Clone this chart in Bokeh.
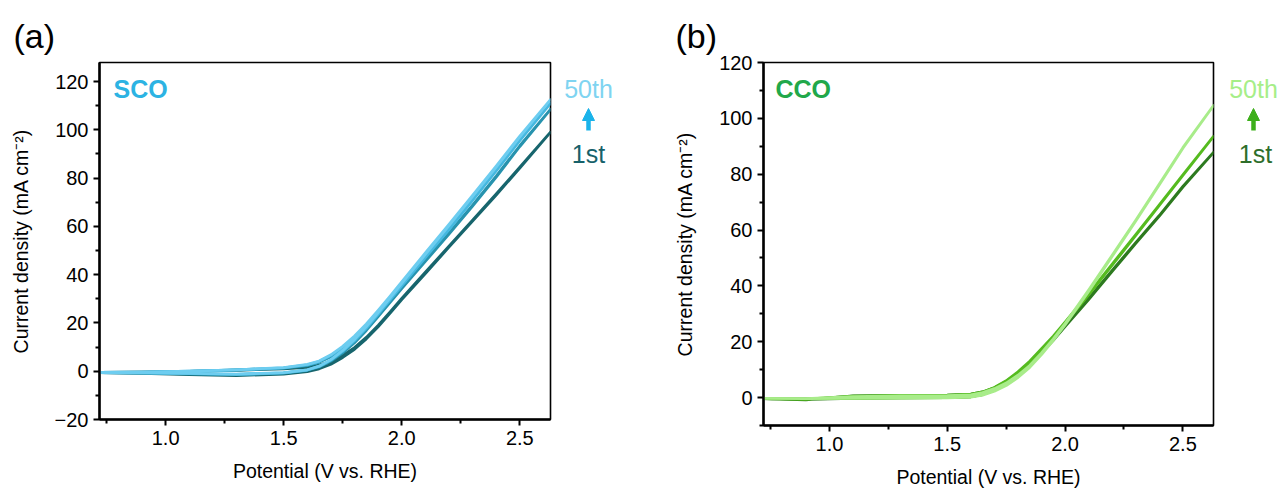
from bokeh.plotting import figure
from bokeh.layouts import row
from bokeh.models import Label, Arrow, NormalHead, FixedTicker, Range1d, Title
from bokeh.embed import file_html
from bokeh.resources import INLINE

# ---------------- data ----------------
potential = [0.72, 0.9, 1.1, 1.3, 1.5, 1.6, 1.65, 1.7, 1.75, 1.8,
             1.85, 1.9, 1.95, 2.0, 2.1, 2.2, 2.3, 2.4, 2.5, 2.63]

# SCO cycles (forward / backward sweep current, mA cm-2)
sco_1st_fwd = [-0.5, -0.4, -0.1, 0.4, 1.0, 1.6, 2.5, 4.1, 6.5, 9.8,
               14.0, 19.0, 24.5, 30.2, 41.0, 51.8, 62.6, 73.4, 84.5, 99.0]
sco_1st_bwd = [-0.6, -0.9, -1.4, -1.8, -1.2, -0.2, 1.0, 2.9, 5.7, 9.1,
               13.4, 18.4, 24.0, 29.7, 40.5, 51.4, 62.2, 73.0, 84.2, 99.0]
sco_c2_fwd = [-0.5, -0.4, -0.05, 0.5, 1.3, 2.3, 3.7, 6.0, 9.2, 13.2,
              18.0, 23.4, 29.0, 34.8, 46.0, 57.2, 68.8, 80.8, 93.4, 108.5]
sco_c2_bwd = [-0.6, -0.8, -1.1, -1.4, -0.8, 0.4, 1.8, 4.2, 7.6, 11.8,
              16.9, 22.6, 28.4, 34.2, 45.5, 56.8, 68.4, 80.4, 93.1, 108.5]
sco_c3_fwd = [-0.5, -0.4, 0.0, 0.6, 1.4, 2.6, 4.0, 6.5, 9.8, 14.0,
              18.9, 24.4, 30.1, 36.0, 47.6, 59.2, 71.2, 83.4, 95.8, 111.0]
sco_c3_bwd = [-0.6, -0.7, -1.0, -1.3, -0.7, 0.5, 2.0, 4.6, 8.2, 12.6,
              17.8, 23.6, 29.5, 35.4, 47.1, 58.7, 70.8, 83.0, 95.5, 111.0]
sco_50th_fwd = [-0.5, -0.4, 0.0, 0.6, 1.5, 2.8, 4.2, 6.8, 10.3, 14.6,
                19.6, 25.2, 31.0, 37.0, 49.0, 60.8, 72.8, 85.0, 97.4, 112.5]
sco_50th_bwd = [-0.6, -0.7, -0.9, -1.2, -0.6, 0.6, 2.1, 4.8, 8.6, 13.2,
                18.5, 24.3, 30.3, 36.4, 48.4, 60.3, 72.4, 84.6, 97.1, 112.5]

# CCO cycles
cco_1st_fwd = [-0.4, -0.8, 0.6, 0.8, 0.9, 1.2, 2.0, 3.5, 5.8, 8.8,
               12.5, 16.6, 21.0, 25.8, 35.5, 45.5, 55.5, 65.2, 75.6, 87.8]
cco_1st_bwd = [-0.5, -0.6, -0.3, -0.1, 0.0, 0.3, 1.1, 2.6, 4.9, 8.0,
               11.8, 16.0, 20.5, 25.4, 35.1, 45.2, 55.2, 65.0, 75.4, 87.8]
cco_c2_fwd = [-0.4, -0.6, 0.5, 0.8, 0.9, 1.2, 2.0, 3.6, 6.0, 9.2,
              13.0, 17.5, 22.0, 27.0, 37.2, 47.8, 58.4, 69.0, 79.8, 93.5]
cco_c2_bwd = [-0.5, -0.5, -0.3, -0.1, 0.0, 0.3, 1.1, 2.7, 5.1, 8.4,
              12.3, 16.9, 21.5, 26.6, 36.8, 47.4, 58.1, 68.8, 79.6, 93.5]
cco_50th_fwd = [-0.3, -0.4, 0.3, 0.6, 0.7, 1.0, 1.8, 3.2, 5.2, 8.0,
                11.5, 16.0, 21.0, 26.5, 38.5, 51.0, 63.5, 76.5, 89.5, 104.6]
cco_50th_bwd = [-0.4, -0.4, -0.3, -0.2, -0.1, 0.2, 0.9, 2.3, 4.3, 7.2,
                10.8, 15.4, 20.5, 26.0, 38.0, 50.6, 63.2, 76.2, 89.3, 104.6]

x_ticks = [1.0, 1.5, 2.0, 2.5]
x_tick_labels = ["1.0", "1.5", "2.0", "2.5"]
x_minor = [0.75, 1.25, 1.75, 2.25]
ya_ticks = [-20, 0, 20, 40, 60, 80, 100, 120]
ya_minor = [-10, 10, 30, 50, 70, 90, 110]
yb_ticks = [0, 20, 40, 60, 80, 100, 120]
yb_minor = [-10, 10, 30, 50, 70, 90, 110]

FONT = "Liberation Sans"
H = 494
TOP = 62


def make_panel(fw, fh, bl, br, yr, yt, ym, letter, letter_offset):
    p = figure(frame_width=fw, frame_height=fh, min_border_left=bl,
               min_border_top=TOP, min_border_right=br,
               min_border_bottom=H - TOP - fh,
               x_range=Range1d(0.72, 2.63), y_range=Range1d(*yr),
               output_backend="svg", toolbar_location=None,
               background_fill_color="white", border_fill_color="white")
    p.title = Title(text=letter, align="left", offset=letter_offset,
                    vertical_align="top", standoff=11, text_font=FONT,
                    text_font_size="34px", text_font_style="normal",
                    text_color="black")
    p.grid.visible = False
    p.outline_line_color = "black"
    p.outline_line_width = 1.6
    p.xaxis.ticker = FixedTicker(ticks=x_ticks, minor_ticks=x_minor)
    p.xaxis.major_label_overrides = {t: l for t, l in zip(x_ticks, x_tick_labels)}
    p.yaxis.ticker = FixedTicker(ticks=yt, minor_ticks=ym)
    for ax in (p.xaxis, p.yaxis):
        ax.axis_line_width = 2.5
        ax.axis_line_color = "black"
        ax.major_tick_line_width = 2
        ax.minor_tick_line_width = 2
        ax.major_tick_in = 0
        ax.major_tick_out = 6
        ax.minor_tick_in = 0
        ax.minor_tick_out = 4
        ax.major_label_text_font = FONT
        ax.major_label_text_font_size = "20px"
        ax.major_label_text_color = "black"
        ax.axis_label_text_font = FONT
        ax.axis_label_text_font_size = "19.5px"
        ax.axis_label_text_font_style = "normal"
        ax.axis_label_text_color = "black"
    p.xaxis.axis_label = "Potential (V vs. RHE)"
    p.yaxis.axis_label = "Current density (mA cm\u207b\u00b2)"
    p.xaxis.axis_label_standoff = 12
    p.yaxis.axis_label_standoff = 20
    return p


def make_side(w):
    s = figure(frame_width=w, frame_height=H - TOP, min_border_left=0,
               min_border_right=0, min_border_top=TOP, min_border_bottom=0,
               x_range=Range1d(0, w), y_range=Range1d(H, TOP),
               x_axis_type=None, y_axis_type=None,
               output_backend="svg", toolbar_location=None)
    s.grid.visible = False
    s.outline_line_color = None
    return s


def draw_cycle(p, fwd, bwd, color):
    xs = potential + potential[::-1]
    ys = fwd + bwd[::-1]
    p.line(xs, ys, line_color=color, line_width=2.8, line_join="round")


def label(p, x, y, text, size, color, align="left", bold=False, units="data"):
    p.add_layout(Label(x=x, y=y, x_units=units, y_units=units,
                       text=text, text_font=FONT, text_font_size=size,
                       text_font_style="bold" if bold else "normal",
                       text_color=color, text_align=align,
                       text_baseline="alphabetic"))


def arrow(p, x, y0, y1, color):
    p.add_layout(Arrow(x_start=x, y_start=y0, x_end=x, y_end=y1,
                       line_color=color, line_width=4.5,
                       end=NormalHead(size=12, fill_color=color,
                                      line_color=color, line_width=1)))


# ---------------- panel (a) ----------------
pa = make_panel(451, 357, 99, 3, (-20, 127.9), ya_ticks, ya_minor, "(a)", -86)
draw_cycle(pa, sco_1st_fwd, sco_1st_bwd, "#17656d")
draw_cycle(pa, sco_c2_fwd, sco_c2_bwd, "#2793ae")
draw_cycle(pa, sco_c3_fwd, sco_c3_bwd, "#45b8e0")
draw_cycle(pa, sco_50th_fwd, sco_50th_bwd, "#6dcdf0")
label(pa, 14, 331, "SCO", "25px", "#2cb3e3", bold=True, units="screen")

sa = make_side(97)
label(sa, 35, 88, "50th", "25px", "#7fd4f1", align="center")
label(sa, 35, 153, "1st", "25px", "#17616a", align="center")
arrow(sa, 35, 130, 108, "#1ab3ea")

# ---------------- panel (b) ----------------
pb = make_panel(450, 363, 113, 3, (-10, 120), yb_ticks, yb_minor, "(b)", -88)
draw_cycle(pb, cco_1st_fwd, cco_1st_bwd, "#2d7a1f")
draw_cycle(pb, cco_c2_fwd, cco_c2_bwd, "#55bb1f")
draw_cycle(pb, cco_50th_fwd, cco_50th_bwd, "#a8ec8a")
label(pb, 12, 337, "CCO", "25px", "#21a84a", bold=True, units="screen")

sb = make_side(62)
label(sb, 37, 88, "50th", "25px", "#a6ee88", align="center")
label(sb, 39, 153, "1st", "25px", "#2e6e2b", align="center")
arrow(sb, 37, 130, 108, "#3daf1b")

layout = row(pa, sa, pb, sb)
open("out.html", "w").write(file_html(layout, INLINE))
